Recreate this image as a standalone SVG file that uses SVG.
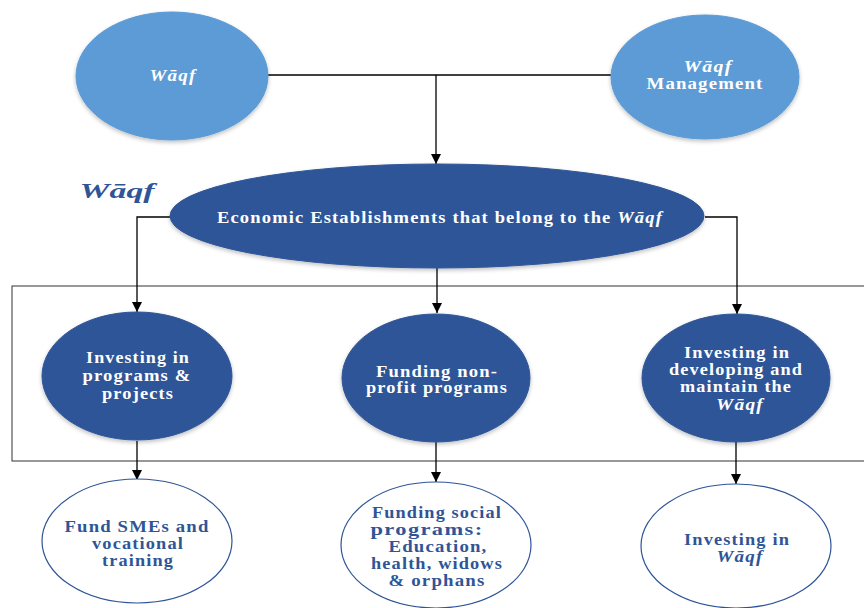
<svg xmlns="http://www.w3.org/2000/svg" width="864" height="608" viewBox="0 0 864 608">
<defs>
<style>
.lb{fill:#5B9BD5;stroke:#5B9BD5;stroke-width:1}
.db{fill:#2F5597;stroke:#2F5597;stroke-width:1}
.wh{fill:#ffffff;stroke:#2F5597;stroke-width:1.2}
.t{font-family:"Liberation Serif","Times New Roman",serif;font-weight:bold;font-size:16px;letter-spacing:1px;text-anchor:middle}
.tw{fill:#ffffff}
.tb{fill:#2F5597}
.it{font-style:italic}
.con{fill:none;stroke:#000;stroke-width:1.3}
</style>
<marker id="ah" viewBox="0 0 10 10" refX="10" refY="5" markerWidth="10" markerHeight="10" markerUnits="userSpaceOnUse" orient="auto">
<path d="M0,0 L10,5 L0,10 z" fill="#000"/>
</marker>
<filter id="sh" x="-10%" y="-10%" width="120%" height="125%">
<feGaussianBlur in="SourceAlpha" stdDeviation="2"/>
<feOffset dx="0" dy="2" result="b"/>
<feComponentTransfer><feFuncA type="linear" slope="0.25"/></feComponentTransfer>
<feMerge><feMergeNode/><feMergeNode in="SourceGraphic"/></feMerge>
</filter>
</defs>
<rect width="864" height="608" fill="#ffffff"/>
<rect x="12" y="286" width="860" height="175" fill="none" stroke="#333333" stroke-width="1"/>
<g id="connectors">
<path class="con" d="M268,75 H611"/>
<path class="con" d="M436,75 V164" marker-end="url(#ah)"/>
<path class="con" d="M170,217 H137 V312" marker-end="url(#ah)"/>
<path class="con" d="M437,268 V313" marker-end="url(#ah)"/>
<path class="con" d="M705,217 H737 V314" marker-end="url(#ah)"/>
<path class="con" d="M137,441 V480" marker-end="url(#ah)"/>
<path class="con" d="M436,442 V482" marker-end="url(#ah)"/>
<path class="con" d="M736,442 V484" marker-end="url(#ah)"/>
</g>
<g id="waqf">
<ellipse class="lb" cx="172" cy="76" rx="96" ry="64" filter="url(#sh)"/>
<text class="t tw it" x="173" y="81" textLength="47" lengthAdjust="spacingAndGlyphs">Wāqf</text>
</g>
<g id="waqf-management">
<ellipse class="lb" cx="705" cy="77" rx="94" ry="62" filter="url(#sh)"/>
<text class="t tw it" x="708" y="72" textLength="49" lengthAdjust="spacingAndGlyphs">Wāqf</text>
<text class="t tw" x="705" y="89" textLength="117" lengthAdjust="spacingAndGlyphs">Management</text>
</g>
<g id="waqf-label">
<text class="t tb it" x="117" y="198" style="font-size:22px;letter-spacing:0" textLength="75" lengthAdjust="spacingAndGlyphs">Wāqf</text>
</g>
<g id="economic-establishments">
<ellipse class="db" cx="437" cy="216" rx="267" ry="52" filter="url(#sh)"/>
<text class="t tw" x="440" y="223" textLength="446" lengthAdjust="spacingAndGlyphs">Economic Establishments that belong to the <tspan class="it">Wāqf</tspan></text>
</g>
<g id="investing-programs">
<ellipse class="db" cx="137" cy="376" rx="95" ry="64" filter="url(#sh)"/>
<text class="t tw" x="138" y="363" textLength="104" lengthAdjust="spacingAndGlyphs">Investing in</text>
<text class="t tw" x="137" y="381" textLength="109" lengthAdjust="spacingAndGlyphs">programs &amp;</text>
<text class="t tw" x="138" y="399" textLength="72" lengthAdjust="spacingAndGlyphs">projects</text>
</g>
<g id="funding-nonprofit">
<ellipse class="db" cx="436" cy="378" rx="94" ry="64" filter="url(#sh)"/>
<text class="t tw" x="437" y="377" textLength="122" lengthAdjust="spacingAndGlyphs">Funding non-</text>
<text class="t tw" x="437" y="393" textLength="142" lengthAdjust="spacingAndGlyphs">profit programs</text>
</g>
<g id="investing-developing">
<ellipse class="db" cx="736" cy="378" rx="94" ry="64" filter="url(#sh)"/>
<text class="t tw" x="737" y="358" textLength="106" lengthAdjust="spacingAndGlyphs">Investing in</text>
<text class="t tw" x="736" y="375" textLength="134" lengthAdjust="spacingAndGlyphs">developing and</text>
<text class="t tw" x="736" y="392" textLength="112" lengthAdjust="spacingAndGlyphs">maintain the</text>
<text class="t tw it" x="740" y="410" textLength="48" lengthAdjust="spacingAndGlyphs">Wāqf</text>
</g>
<g id="fund-smes">
<ellipse class="wh" cx="137" cy="541" rx="95" ry="62"/>
<text class="t tb" x="137" y="532" textLength="145" lengthAdjust="spacingAndGlyphs">Fund SMEs and</text>
<text class="t tb" x="138" y="549" textLength="92" lengthAdjust="spacingAndGlyphs">vocational</text>
<text class="t tb" x="138" y="566" textLength="72" lengthAdjust="spacingAndGlyphs">training</text>
</g>
<g id="funding-social">
<ellipse class="wh" cx="436" cy="545" rx="95" ry="63"/>
<text class="t tb" x="437" y="518" textLength="130" lengthAdjust="spacingAndGlyphs">Funding social</text>
<text class="t tb" x="427" y="535" textLength="113" lengthAdjust="spacingAndGlyphs">programs:</text>
<text class="t tb" x="438" y="552" textLength="99" lengthAdjust="spacingAndGlyphs">Education,</text>
<text class="t tb" x="437" y="569" textLength="132" lengthAdjust="spacingAndGlyphs">health, widows</text>
<text class="t tb" x="437" y="586" textLength="97" lengthAdjust="spacingAndGlyphs">&amp; orphans</text>
</g>
<g id="investing-waqf">
<ellipse class="wh" cx="736" cy="546" rx="95" ry="62"/>
<text class="t tb" x="737" y="545" textLength="106" lengthAdjust="spacingAndGlyphs">Investing in</text>
<text class="t tb it" x="740" y="562" textLength="47" lengthAdjust="spacingAndGlyphs">Wāqf</text>
</g>
</svg>
